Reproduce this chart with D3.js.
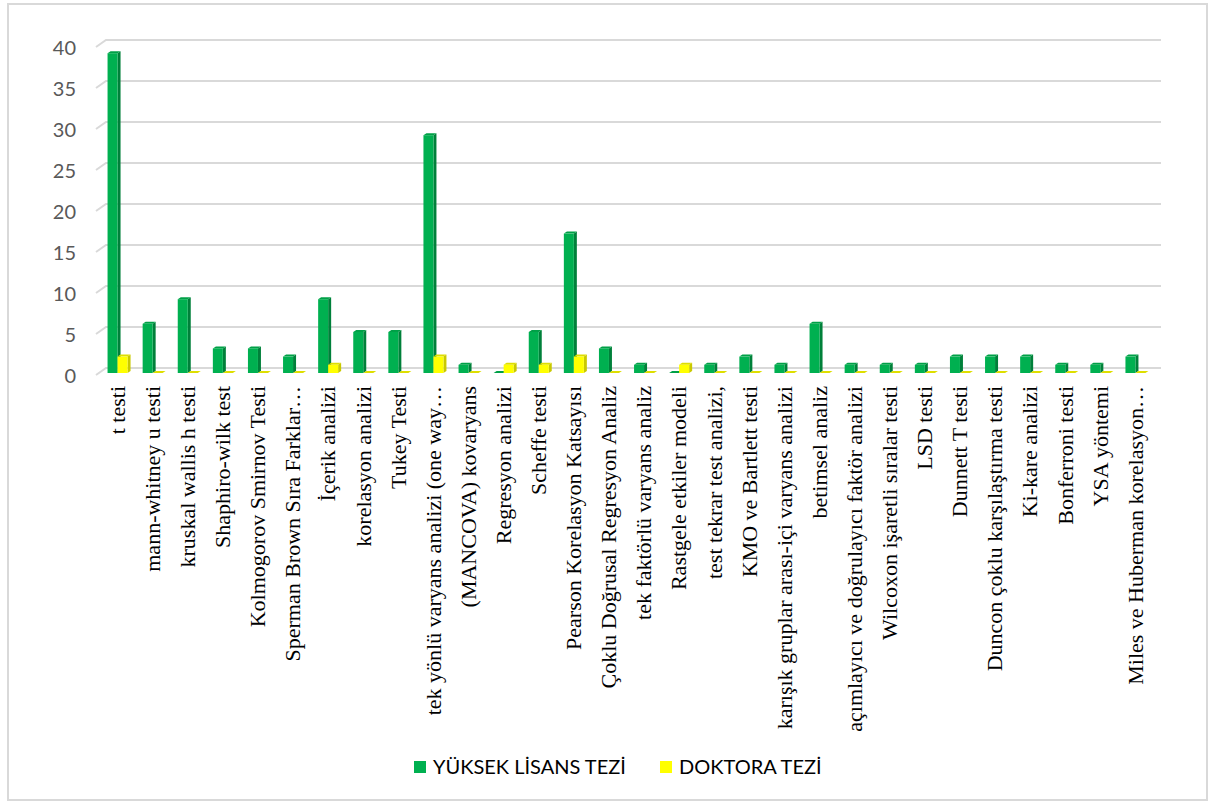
<!doctype html>
<html lang="tr">
<head>
<meta charset="utf-8">
<title>Tez türüne göre istatistik yöntemleri</title>
<script src="https://d3js.org/d3.v7.min.js"></script>
<style>
    body { margin: 0; background: #fff; }
    .tick text { fill: #595959; }
</style>
</head>
<body>
<svg id="chart" width="1215" height="806"></svg>
<script>

    const categories = [
        "t testi", "mann-whitney u testi", "kruskal wallis h testi", "Shaphiro-wilk test",
        "Kolmogorov Smirnov Testi", "Sperman Brown Sıra Farklar…", "İçerik analizi",
        "korelasyon analizi", "Tukey Testi", "tek yönlü varyans analizi (one way…",
        "(MANCOVA) kovaryans", "Regresyon analizi", "Scheffe testi", "Pearson Korelasyon Katsayısı",
        "Çoklu Doğrusal Regresyon Analiz", "tek faktörlü varyans analiz", "Rastgele etkiler modeli",
        "test tekrar test analizi,", "KMO ve Bartlett testi", "karışık gruplar arası-içi varyans analizi",
        "betimsel analiz", "açımlayıcı ve doğrulayıcı faktör analizi", "Wilcoxon işaretli sıralar testi",
        "LSD testi", "Dunnett T testi", "Duncon çoklu karşılaştırma testi", "Ki-kare analizi",
        "Bonferroni testi", "YSA yöntemi", "Miles ve Huberman korelasyon…"
    ];

    const yuksekLisans = [39, 6, 9, 3, 3, 2, 9, 5, 5, 29, 1, 0, 5, 17, 3, 1, 0, 1, 2, 1, 6, 1, 1, 1, 2, 2, 2, 1, 1, 2];
    const doktora      = [2, 0, 0, 0, 0, 0, 1, 0, 0, 2, 0, 1, 1, 2, 0, 0, 1, 0, 0, 0, 0, 0, 0, 0, 0, 0, 0, 0, 0, 0];

    const yTicks = [0, 5, 10, 15, 20, 25, 30, 35, 40];
    const seriesNames = ["YÜKSEK LİSANS TEZİ", "DOKTORA TEZİ"];

    const svg = d3.select("#chart")

    // chart area border
    svg.append("rect")
        .attr("x", 8).attr("y", 4)
        .attr("width", 1199).attr("height", 796)
        .attr("fill", "none")
        .attr("stroke", "#d9d9d9")
        .attr("stroke-width", 2)

    const x = d3.scaleBand().domain(categories).range([100, 1153])
    const y = d3.scaleLinear().domain([0, 40]).range([375, 47])

    // 3d depth of the back wall
    const wallDx = 10, wallDy = -7
    const barW = 10, sideDx = 3, sideDy = -2, barLift = 2

    // gridlines on the back wall, with the slanted floor edge at the left
    svg.append("g")
        .selectAll("path")
        .data(yTicks)
        .join("path")
        .attr("d", d => `M96,${y(d)}L${96 + wallDx},${y(d) + wallDy}L1161,${y(d) + wallDy}`)
        .attr("fill", "none")
        .attr("stroke", "#d9d9d9")
        .attr("stroke-width", 2)

    // value axis labels
    const yAxis = d3.axisLeft(y).tickValues(yTicks).tickSize(0).tickPadding(0)
    svg.append("g")
        .attr("transform", "translate(76,1)")
        .call(yAxis)
        .call(g => g.select(".domain").remove())
        .selectAll("text")
        .attr("font-family", "Lato, sans-serif")
        .attr("font-size", 20)

    // category labels, rotated
    const xAxis = d3.axisBottom(x).tickSize(0).tickPadding(0)
    svg.append("g")
        .attr("transform", "translate(0,386)")
        .call(xAxis)
        .call(g => g.select(".domain").remove())
        .selectAll("text")
        .attr("transform", "rotate(-90)")
        .attr("x", 0).attr("y", 0)
        .attr("dy", "0.33em")
        .attr("text-anchor", "end")
        .attr("font-family", "'Liberation Serif', 'Times New Roman', serif")
        .attr("font-size", 22)
        .style("fill", "#000")

    // 3d column: front face, side face, top face
    function column(g, x0, v, c) {
        const top = y(v) - barLift, base = y(0) - barLift
        g.append("path")
            .attr("d", `M${x0 + barW},${base}L${x0 + barW + sideDx},${base + sideDy}L${x0 + barW + sideDx},${top + sideDy}L${x0 + barW},${top}Z`)
            .attr("fill", c.side)
        g.append("path")
            .attr("d", `M${x0},${top}L${x0 + sideDx},${top + sideDy}L${x0 + barW + sideDx},${top + sideDy}L${x0 + barW},${top}Z`)
            .attr("fill", c.top)
        if (v > 0) {
            g.append("rect")
                .attr("x", x0).attr("y", top)
                .attr("width", barW).attr("height", base - top)
                .attr("fill", c.front)
        }
    }

    const green = {front: "#00b050", side: "#00803a", top: "#00a047"}
    const yellow = {front: "#ffff00", side: "#c9c900", top: "#dede00"}

    const bars = svg.append("g")
    categories.forEach((cat, i) => {
        const cx = x(cat) + x.bandwidth() / 2
        column(bars, cx - barW, yuksekLisans[i], green)
        column(bars, cx, doktora[i], yellow)
    })

    // legend
    const legend = svg.append("g")
    const legendX = [414, 660]
    const legendColors = ["#00b050", "#ffff00"]
    legend.selectAll("rect")
        .data(seriesNames)
        .join("rect")
        .attr("x", (d, i) => legendX[i]).attr("y", 761)
        .attr("width", 12).attr("height", 12)
        .attr("fill", (d, i) => legendColors[i])
    legend.selectAll("text")
        .data(seriesNames)
        .join("text")
        .attr("x", (d, i) => legendX[i] + 19).attr("y", 774)
        .attr("font-family", "Lato, sans-serif")
        .attr("font-size", 20)
        .attr("fill", "#000")
        .text(d => d)

</script>
</body>
</html>
